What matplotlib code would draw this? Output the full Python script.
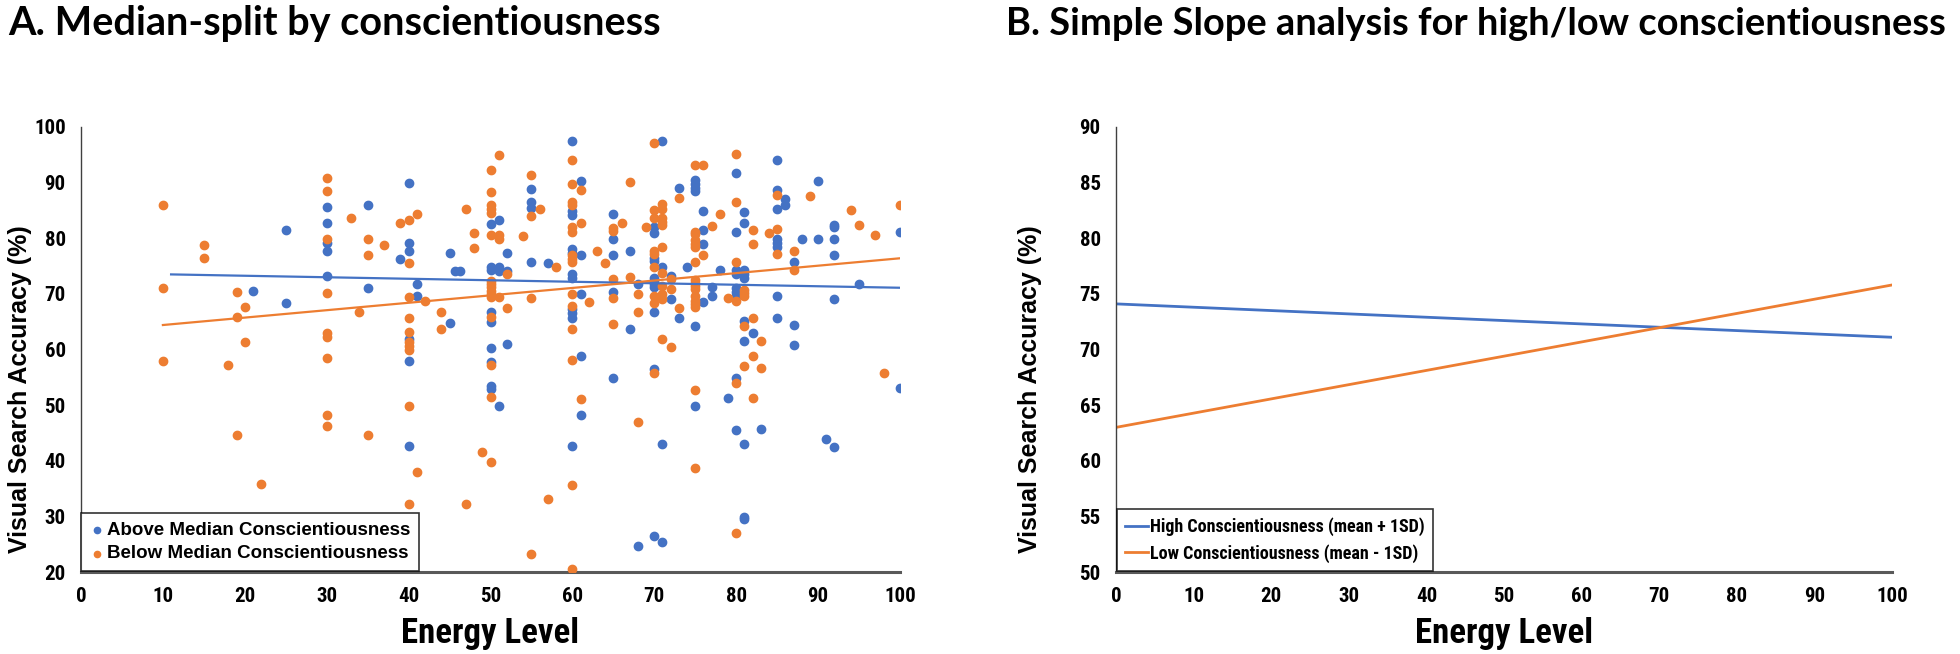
import numpy as np
import matplotlib.pyplot as plt

# A. scatter data (energy level, accuracy %)
above_x = [21, 25, 25, 30, 30, 30, 30, 30,
           40, 35, 50, 51, 55, 55, 55, 61, 60, 60, 40, 40, 39, 45, 52, 45.7, 46.3, 50, 50, 51, 51, 52,
           55, 57, 60, 60, 61, 65, 65, 65, 67, 60, 60, 35, 41, 41, 61, 65, 60, 60, 60, 67, 45, 40, 40,
           50, 50, 50, 52, 50, 61,
           65, 50, 50, 51, 61, 40, 60,
           85, 80, 90, 75, 75, 75, 75, 73, 85, 86, 86, 70, 70, 76, 81, 81, 85, 100, 92, 92, 92, 92, 88,
           90, 85, 85, 85, 80, 76, 76, 70, 70, 71, 74, 72, 70, 70, 70, 70, 68, 77, 78, 80, 80, 81, 81,
           81, 87, 95, 80, 80, 80, 77, 76, 72, 70, 73, 75, 85, 92, 85, 81, 87, 82, 81, 87, 70,
           80, 100, 79, 75, 80, 83, 71, 81, 91, 92, 81, 81, 70, 71, 68,
           60, 71]
above_y = [70.6, 68.3, 81.5, 85.6, 82.8, 79.2, 77.7, 73.2,
           90.0, 86.0, 82.6, 83.3, 88.9, 86.6, 85.4, 90.3, 84.9, 84.2, 79.2, 77.7, 76.2, 77.4, 77.4, 74.1, 74.1, 74.9, 74.3, 74.9, 74.1, 74.2,
           75.7, 75.6, 78.1, 77.4, 76.9, 84.3, 79.9, 76.9, 77.7, 73.5, 72.9, 71.0, 71.8, 69.7, 69.9, 70.3, 67.2, 66.5, 65.6, 63.6, 64.7, 61.9, 58.0,
           66.7, 64.9, 60.3, 61.0, 57.7, 58.9,
           54.8, 53.5, 52.9, 49.9, 48.3, 42.6, 42.6,
           94.0, 91.8, 90.3, 90.5, 89.8, 89.1, 88.5, 89.0, 88.7, 87.0, 86.0, 82.0, 81.0, 84.9, 84.8, 82.8, 85.2, 81.2, 82.4, 82.0, 79.9, 76.9, 79.9,
           79.9, 79.9, 79.2, 78.5, 81.1, 81.5, 78.9, 76.5, 76.0, 74.9, 74.9, 73.2, 72.9, 72.4, 71.8, 71.3, 71.8, 71.3, 74.3, 74.3, 73.5, 74.3, 73.5,
           72.9, 75.7, 71.8, 71.0, 70.4, 69.6, 69.6, 68.6, 69.1, 66.7, 65.7, 64.3, 69.6, 69.0, 65.7, 65.1, 64.4, 63.0, 61.6, 60.8, 56.5,
           54.8, 53.1, 51.3, 49.8, 45.5, 45.7, 43.1, 43.0, 44.0, 42.4, 29.8, 29.5, 26.5, 25.4, 24.7,
           97.4, 97.4]

below_x = [10, 15, 15, 10, 19, 20, 19, 20, 10, 18, 30, 30, 30, 30, 30, 30, 30, 33, 34,
           30, 30, 19, 22,
           39, 40, 41, 47, 50, 51, 50, 50, 50, 50, 48, 50, 51, 51, 54, 55, 56, 55, 60, 60, 61, 60, 60, 61,
           60, 60, 35, 35, 37, 40, 48, 52, 58, 60, 60, 60, 63, 64, 65, 65, 66, 67, 65, 67, 40, 42,
           50, 50, 50, 50, 50, 50, 51, 52, 55, 60, 62, 65, 60, 60, 65, 44, 44, 40, 40, 40, 40, 40, 50, 50, 60,
           50, 40, 61, 35, 49, 50, 41, 60, 57, 40, 47, 55, 60,
           80, 75, 76, 73, 85, 89, 80, 71, 71, 70, 70, 71, 71, 71, 78, 94, 100, 95, 97, 82, 82, 84, 85, 85,
           77, 75, 75, 75, 75, 75, 76, 75, 69, 71, 70, 70, 70, 71, 72, 71, 72, 75, 75, 75, 75, 80, 87, 87,
           81, 81, 81, 80, 79, 75, 75, 75, 75, 73, 71, 71, 70, 70, 68, 68, 82, 81, 83, 71, 72, 82, 81, 83,
           70, 98,
           80, 75, 82, 68, 75, 80,
           70]
below_y = [86.0, 78.7, 76.4, 71.0, 70.3, 67.7, 65.8, 61.3, 58.0, 57.3, 90.9, 88.5, 79.9, 70.2, 63.0, 62.3, 58.5, 83.7, 66.7,
           48.3, 46.2, 44.6, 35.8,
           82.8, 83.3, 84.3, 85.3, 92.2, 95.0, 88.3, 86.0, 85.2, 84.6, 81.0, 80.5, 80.5, 79.8, 80.4, 91.3, 85.3, 84.0, 94.0, 89.8, 88.7, 86.6, 86.0, 82.8,
           82.0, 81.1, 79.9, 76.9, 78.7, 75.5, 78.2, 73.5, 74.9, 76.9, 76.3, 75.7, 77.7, 75.6, 81.9, 81.3, 82.8, 90.1, 72.6, 73.1, 69.5, 68.7,
           72.4, 71.8, 71.2, 70.6, 70.0, 69.4, 69.4, 67.5, 69.2, 69.9, 68.6, 69.2, 67.9, 63.7, 64.5, 66.7, 63.6, 65.6, 63.2, 61.3, 60.6, 59.9, 65.8, 57.3, 58.2,
           51.4, 49.9, 51.1, 44.6, 41.5, 39.8, 38.0, 35.6, 33.2, 32.2, 32.2, 23.3, 20.6,
           95.2, 93.2, 93.2, 87.2, 87.7, 87.6, 86.6, 86.2, 85.2, 85.0, 83.7, 83.7, 83.0, 82.3, 84.4, 85.1, 86.0, 82.4, 80.5, 81.4, 79.0, 81.0, 81.7, 77.1,
           82.2, 81.1, 80.7, 79.6, 79.0, 78.4, 76.9, 75.7, 82.0, 78.4, 77.7, 77.1, 74.9, 73.8, 72.6, 71.5, 70.9, 72.5, 72.0, 71.4, 70.8, 75.7, 77.7, 74.3,
           70.7, 70.1, 69.6, 68.8, 69.2, 69.6, 68.8, 68.2, 67.7, 67.5, 69.9, 69.1, 69.6, 68.4, 69.9, 66.7, 65.6, 64.3, 61.5, 61.9, 60.4, 58.9, 57.0, 56.6,
           55.7, 55.7,
           53.9, 52.8, 51.2, 47.0, 38.7, 27.0,
           97.2]

# Excel trend lines (end points)
trend_above_x = [11, 100]
trend_above_y = [73.5, 71.1]
trend_below_x = [10, 100]
trend_below_y = [64.4, 76.4]

# B. simple slopes
slope_x = [0, 100]
high_y = [74.1, 71.1]
low_y = [63.0, 75.8]

blue = '#4472C4'
orange = '#ED7D31'
narrow = dict(family=['Roboto Condensed', 'DejaVu Sans'], stretch='condensed', weight='bold')
W, H = 1960, 654

fig = plt.figure(figsize=(W / 100, H / 100), dpi=100)


def pix_axes(x0, x1, ytop, ybot):
    return fig.add_axes([x0 / W, 1 - ybot / H, (x1 - x0) / W, (ybot - ytop) / H])


def style(ax, ylim, yticks, ylab_x):
    ax.set_xlim(0, 100)
    ax.set_ylim(*ylim)
    ax.set_xticks(range(0, 101, 10))
    ax.set_yticks(yticks)
    for s in ['top', 'right']:
        ax.spines[s].set_visible(False)
    ax.spines['left'].set_color('#404040')
    ax.spines['left'].set_linewidth(1.0)
    ax.spines['bottom'].set_color('#595959')
    ax.spines['bottom'].set_linewidth(2.2)
    ax.tick_params(length=0, pad=11)
    for lab in ax.get_xticklabels() + ax.get_yticklabels():
        lab.set(fontsize=15, **narrow)
    ax.set_xlabel('Energy Level', fontsize=25, labelpad=8, **narrow)
    ax.set_ylabel('Visual Search Accuracy (%)', family='Liberation Sans', fontweight='bold',
                  fontsize=18)
    ax.yaxis.set_label_coords(ylab_x, 0.41)


# ---- panel A
axA = pix_axes(81, 900, 127, 572)
axA.scatter(above_x, above_y, s=36, color=blue, label='Above Median Conscientiousness', zorder=3)
axA.scatter(below_x, below_y, s=36, color=orange, label='Below Median Conscientiousness', zorder=3)
axA.plot(trend_above_x, trend_above_y, color=blue, lw=1.6, zorder=4)
axA.plot(trend_below_x, trend_below_y, color=orange, lw=1.6, zorder=4)
style(axA, (20, 100), range(20, 101, 10), -0.060)
legA = axA.legend(loc='lower left', bbox_to_anchor=(-0.004, -0.006), frameon=True, fancybox=False,
                  edgecolor='black', handletextpad=0.1, borderpad=0.45, labelspacing=0.35,
                  handlelength=0.8, borderaxespad=0.2, markerscale=0.75,
                  prop={'family': 'Liberation Sans', 'weight': 'bold', 'size': 13.5})
legA.get_frame().set_linewidth(1.2)

# ---- panel B
axB = pix_axes(1116, 1892, 127, 572)
axB.plot(slope_x, high_y, color=blue, lw=2.0, label='High Conscientiousness (mean + 1SD)')
axB.plot(slope_x, low_y, color=orange, lw=2.0, label='Low Conscientiousness (mean - 1SD)')
style(axB, (50, 90), range(50, 91, 5), -0.095)
legB = axB.legend(loc='lower left', bbox_to_anchor=(-0.004, -0.006), frameon=True, fancybox=False,
                  edgecolor='black', handletextpad=0.1, borderpad=0.45, labelspacing=0.45,
                  handlelength=1.3, borderaxespad=0.2,
                  prop={'family': narrow['family'], 'stretch': 'condensed', 'weight': 'bold',
                        'size': 13})
legB.get_frame().set_linewidth(1.2)

# titles
fig.text(8 / W, 1 - 24 / H, 'A. Median-split by conscientiousness', family='Lato',
         fontweight='bold', fontsize=28.5, va='center', ha='left')
fig.text(1006 / W, 1 - 24 / H, 'B. Simple Slope analysis for high/low conscientiousness',
         family='Lato', fontweight='bold', fontsize=27.4, va='center', ha='left')

fig.savefig('out.png', dpi=100, facecolor='white')
